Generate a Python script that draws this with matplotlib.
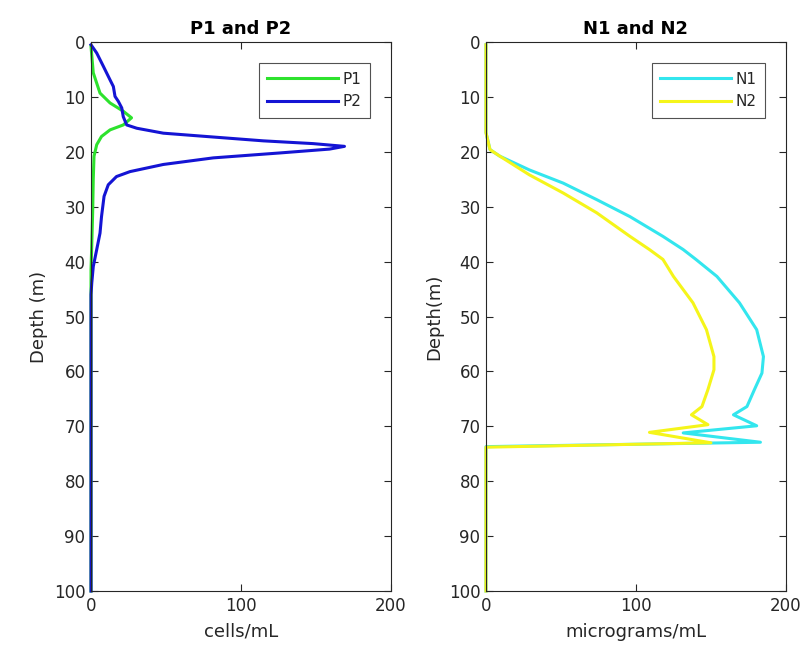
import numpy as np
import matplotlib.pyplot as plt

# P1 / P2 profiles (value, depth)
p1_val = [0, 1.5, 6, 12.7, 21.5, 27, 21.5, 12.7, 7, 3.8, 2, 1.5, 1.1, 0.5, 0, 0]
p1_dep = [0.8, 5.6, 9.3, 11.1, 12.6, 13.8, 15.1, 16, 17.2, 18.7, 20.8, 25, 31, 37, 41.5, 100]

p2_val = [0, 3.8, 8.2, 12.7, 14.9, 16, 18.2, 20.5, 21.5, 23.8, 30.5, 48.2, 81.5, 115,
          148, 169, 159, 126, 81.5, 48.2, 26, 17, 11.5, 8.7, 7, 6, 3.8, 1.5, 0.5, 0, 0]
p2_dep = [0.5, 2, 4.4, 6.9, 8.1, 9.9, 10.8, 12, 13.6, 15.1, 15.7, 16.6, 17.3, 18,
          18.5, 19, 19.5, 20.2, 21.1, 22.3, 23.6, 24.5, 26, 28.1, 31.8, 34.8, 37.8, 40.9, 43.9, 46, 100]

# N1 / N2 profiles (value, depth)
n1_val = [0, 0, 2.7, 9.3, 29, 51.5, 73.8, 96, 118, 131.5, 140, 154, 169, 180.5, 185,
          184, 179, 174, 165, 180.5, 131.5, 183, 0, 0]
n1_dep = [0.5, 16.5, 19.6, 20.8, 23.3, 25.7, 28.7, 31.8, 35.4, 37.8, 39.6, 42.7, 47.5, 52.4, 57.3,
          60.3, 63.3, 66.4, 67.9, 69.9, 71.2, 72.9, 73.7, 100]

n2_val = [0, 0, 2.7, 9.3, 29, 51.5, 73.8, 96, 109, 118, 125, 138, 147, 152,
          152, 148, 144, 137, 148, 109, 150, 0, 0]
n2_dep = [0.5, 16.5, 19.6, 20.8, 24.2, 27.5, 31.1, 35.4, 37.8, 39.6, 42.7, 47.5, 52.4, 57.3,
          59.7, 63.3, 66.4, 67.9, 69.7, 71.1, 73, 73.8, 100]

plt.rcParams['font.family'] = 'DejaVu Sans'
txt = '#262626'

fig = plt.figure(figsize=(8.09, 6.58), dpi=100)
ax1 = fig.add_axes([0.1125, 0.1018, 0.3708, 0.8343])
ax2 = fig.add_axes([0.6007, 0.1018, 0.3708, 0.8343])

ax1.plot(p1_val, p1_dep, c='#2de22d', lw=2.2, label='P1', clip_on=False)
ax1.plot(p2_val, p2_dep, c='#1414d4', lw=2.2, label='P2', clip_on=False)
ax2.plot(n1_val, n1_dep, c='#33e6ee', lw=2.2, label='N1', clip_on=False)
ax2.plot(n2_val, n2_dep, c='#f5f51a', lw=2.2, label='N2', clip_on=False)

for ax, title, xl, yl in [(ax1, 'P1 and P2', 'cells/mL', 'Depth (m)'),
                          (ax2, 'N1 and N2', 'micrograms/mL', 'Depth(m)')]:
    ax.set_xlim(0, 200)
    ax.set_ylim(100, 0)
    ax.set_xticks([0, 100, 200])
    ax.set_yticks(np.arange(0, 101, 10))
    ax.tick_params(direction='in', top=True, right=True, labelsize=12,
                   colors=txt, length=5, width=0.8, pad=4)
    for s in ax.spines.values():
        s.set_color(txt)
        s.set_linewidth(0.8)
    ax.set_title(title, fontsize=13, fontweight='bold', color='k', pad=6)
    ax.set_xlabel(xl, fontsize=13, color=txt, labelpad=6)
    ax.set_ylabel(yl, fontsize=13, color=txt)
    leg = ax.legend(loc='upper right', fontsize=11, fancybox=False,
                    edgecolor=txt, handlelength=4.6, borderaxespad=1.4,
                    borderpad=0.55, labelspacing=0.5, handletextpad=0.3)
    leg.get_frame().set_linewidth(0.8)
    for t in leg.get_texts():
        t.set_color(txt)

fig.savefig('out.png', dpi=100)
